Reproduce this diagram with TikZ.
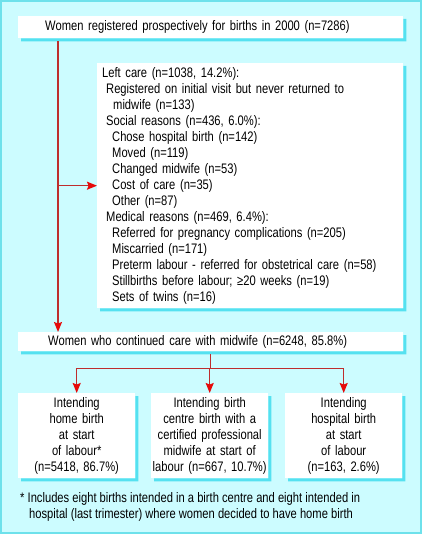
\documentclass[tikz,border=0pt]{standalone}
\usepackage{fontspec}
\setmainfont{Liberation Sans}[FakeStretch=0.81]
\usetikzlibrary{arrows.meta}

\definecolor{bgcyan}{RGB}{204,252,255}
\definecolor{rimcyan}{RGB}{110,225,235}
\definecolor{shadecyan}{RGB}{85,225,240}
\definecolor{linered}{RGB}{190,45,45}
\definecolor{tipred}{RGB}{230,10,10}

\tikzset{
  box/.style={fill=white, inner sep=0pt, anchor=north west},
  link/.style={draw=linered, line width=1.3pt},
  flow/.style={link, -{Stealth[length=10pt, width=8pt, inset=1.5pt, color=tipred]}}
}

\begin{document}
\begin{tikzpicture}[x=1pt,y=1pt,yscale=-1,font=\fontsize{13.8}{16}\selectfont]
      \useasboundingbox (0,0) rectangle (422,534);

      %Background
      \fill[bgcyan] (0,0) rectangle (422,534);
      \draw[rimcyan, line width=2pt] (1,1) rectangle (421,533);

      %Boxes
      \node[box, minimum height=22pt, inner xsep=27pt, text width=331pt, align=left] (reg) at (18,16)
        {Women registered prospectively for births in 2000 (n=7286)};
      \node[box, minimum height=245pt, inner xsep=5pt, text width=296pt, align=left] (left) at (97,63)
        {Left care (n=1038, 14.2\%):\\
         \hspace*{4pt}Registered on initial visit but never returned to\\
         \hspace*{11pt}midwife (n=133)\\
         \hspace*{4pt}Social reasons (n=436, 6.0\%):\\
         \hspace*{10pt}Chose hospital birth (n=142)\\
         \hspace*{10pt}Moved (n=119)\\
         \hspace*{10pt}Changed midwife (n=53)\\
         \hspace*{10pt}Cost of care (n=35)\\
         \hspace*{10pt}Other (n=87)\\
         \hspace*{4pt}Medical reasons (n=469, 6.4\%):\\
         \hspace*{10pt}Referred for pregnancy complications (n=205)\\
         \hspace*{10pt}Miscarried (n=171)\\
         \hspace*{10pt}Preterm labour - referred for obstetrical care (n=58)\\
         \hspace*{10pt}Stillbirths before labour; ≥20 weeks (n=19)\\
         \hspace*{10pt}Sets of twins (n=16)};
      \node[box, minimum height=19pt, inner xsep=30pt, text width=325pt, align=left] (cont) at (18,332)
        {Women who continued care with midwife (n=6248, 85.8\%)};
      \node[box, minimum height=85pt, text width=117pt, align=center] (home) at (18,393)
        {Intending\\home birth\\at start\\of labour*\\(n=5418, 86.7\%)};
      \node[box, minimum height=85pt, text width=117pt, align=center] (centre) at (151,393)
        {Intending birth\\centre birth with a\\certified professional\\midwife at start of\\labour (n=667, 10.7\%)};
      \node[box, minimum height=85pt, text width=117pt, align=center] (hosp) at (285,393)
        {Intending\\hospital birth\\at start\\of labour\\(n=163, 2.6\%)};

      %Shadows
      \foreach \n in {reg,left,cont,home,centre,hosp}
        \fill[shadecyan] ([shift={(0,3)}]\n.north east) rectangle ([shift={(3,3)}]\n.south east)
                         ([shift={(3,0)}]\n.south west) rectangle ([shift={(3,3)}]\n.south east);

      % Text Node
      \node[anchor=north west, inner sep=0pt, align=left] (note) at (20,492)
        {* Includes eight births intended in a birth centre and eight intended in\\
         \hspace*{9pt}hospital (last trimester) where women decided to have home birth};

      %Connectors
      \coordinate (spine) at (58,0);
      \path (cont.south) ++(0,17) coordinate (fork);
      \draw[flow] (reg.south -| spine) ++(0,3) -- (cont.north -| spine);
      \draw[flow] (spine |- left.west) -- (left.west);
      \draw[link] (cont.south) ++(0,3) -- (fork);
      \draw[link] (fork -| home.north) -- (fork -| hosp.north);
      \foreach \n in {home,centre,hosp}
        \draw[flow] (fork -| \n.north) -- (\n.north);
\end{tikzpicture}
\end{document}
